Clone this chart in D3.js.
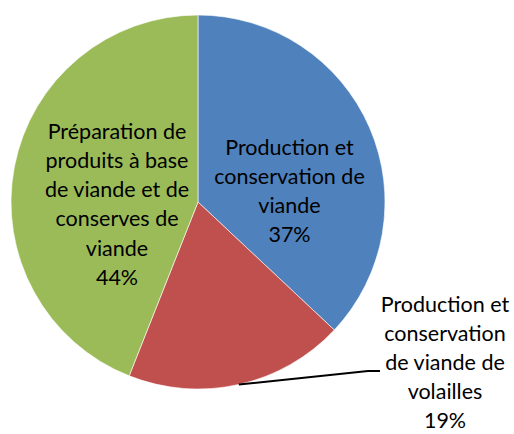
<!DOCTYPE html>
<html>
<head>
<meta charset="utf-8">
<script src="https://cdn.jsdelivr.net/npm/d3@7"></script>
<style>
  html, body { margin: 0; padding: 0; background: #fff; }
  svg { display: block; }
  text { font-family: Lato, "Open Sans", sans-serif; fill: #000; }
</style>
</head>
<body>
<svg id="chart" width="514" height="434"></svg>
<script>
// Meat-industry breakdown (share of activity, %)
const categories = [
  "Production et conservation de viande",
  "Production et conservation de viande de volailles",
  "Préparation de produits à base de viande et de conserves de viande"
];
const values = [37, 19, 44];
const colors = ["#4F81BD", "#C0504D", "#9BBB59"];
// Label text broken into lines as displayed
const labelLines = [
  ["Production et", "conservation de", "viande"],
  ["Production et", "conservation", "de viande de", "volailles"],
  ["Préparation de", "produits à base", "de viande et de", "conserves de", "viande"]
];

const width = 514, height = 434;
const cx = 198, cy = 202, radius = 187;
const fontSize = 21.5;

const svg = d3.select("#chart");
const g = svg.append("g").attr("transform", `translate(${cx},${cy})`);

const pie = d3.pie().sort(null).value(d => d.value);
const data = categories.map((c, i) => ({ name: c, value: values[i], color: colors[i], lines: labelLines[i] }));
const arcs = pie(data);
const total = d3.sum(values);

const arc = d3.arc().innerRadius(0).outerRadius(radius);

g.selectAll("path.slice")
  .data(arcs)
  .join("path")
  .attr("class", "slice")
  .attr("d", arc)
  .attr("fill", d => d.data.color)
  .attr("stroke", "#fff")
  .attr("stroke-width", 0.6);

// Label anchor positions relative to the pie centre (x centre, y of first line centre, line step)
const labelPos = [
  { x: 91.5, y: -55, step: 29.3 },
  { x: 247, y: 102, step: 29 },
  { x: -81, y: -71, step: 29.3 }
];

arcs.forEach((d, i) => {
  const lines = d.data.lines.concat([d3.format(".0%")(d.data.value / total)]);
  const t = g.append("text")
    .attr("text-anchor", "middle")
    .attr("font-size", fontSize);
  lines.forEach((ln, j) => {
    t.append("tspan")
      .attr("x", labelPos[i].x)
      .attr("y", labelPos[i].y + j * labelPos[i].step)
      .attr("dy", "0.35em")
      .text(ln);
  });
});

// Leader line for the outside label, starting at the slice's outer midpoint
const red = arcs[1];
const mid = (red.startAngle + red.endAngle) / 2;
const p0 = [Math.sin(mid) * radius, -Math.cos(mid) * radius];
const p1 = [170, 169];
const p2 = [182, 169];
g.append("path")
  .attr("d", d3.line()([p0, p1, p2]))
  .attr("fill", "none")
  .attr("stroke", "#000")
  .attr("stroke-width", 2);
</script>
</body>
</html>
